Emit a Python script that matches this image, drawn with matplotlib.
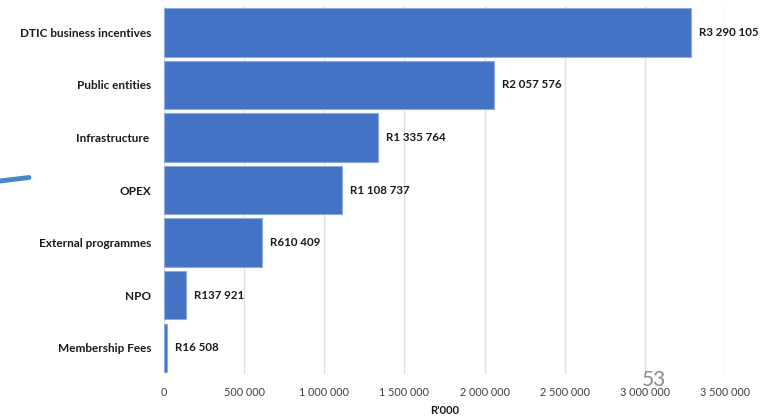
import matplotlib
matplotlib.use("Agg")
import matplotlib.pyplot as plt
from matplotlib.lines import Line2D

categories = ["DTIC business incentives", "Public entities", "Infrastructure ",
              "OPEX", "External programmes", "NPO", "Membership Fees"]
values = [3290105, 2057576, 1335764, 1108737, 610409, 137921, 16508]
value_labels = ["R3 290 105", "R2 057 576", "R1 335 764", "R1 108 737",
                "R610 409", "R137 921", "R16 508"]
xticks = [0, 500000, 1000000, 1500000, 2000000, 2500000, 3000000, 3500000]
xtick_labels = ["0", "500 000", "1 000 000", "1 500 000", "2 000 000",
                "2 500 000", "3 000 000", "3 500 000"]

plt.rcParams['font.family'] = ['Lato', 'DejaVu Sans']

fig = plt.figure(figsize=(7.6, 4.18), dpi=100)
ax = fig.add_axes([0.2158, 0.105, 0.954 - 0.2158, 0.9856 - 0.105])

ypos = list(range(len(categories)))[::-1]
ax.barh(ypos, values, height=0.92, color='#4472C4', edgecolor='#8FAADC',
        linewidth=0.8, zorder=3)

for y, v, lab in zip(ypos, values, value_labels):
    ax.text(v + 50000, y, lab, va='center', ha='left', fontsize=8.3,
            fontweight='bold', color='#1a1a1a', clip_on=False)

ax.set_xlim(0, 3500000)
ax.set_ylim(-0.5, len(categories) - 0.5)
ax.set_xticks(xticks)
ax.set_xticklabels(xtick_labels, fontsize=7.8, color='#404040')
ax.set_yticks(ypos)
ax.set_yticklabels(categories, fontsize=8.5, fontweight='bold', color='#1a1a1a')
ax.tick_params(axis='both', length=0)
ax.tick_params(axis='x', pad=9)
ax.tick_params(axis='y', pad=9)
ax.grid(axis='x', color='#DCE1EA', linewidth=1.0, zorder=0)
for s in ax.spines.values():
    s.set_visible(False)
ax.set_xlabel("R'000", fontsize=8, fontweight='bold', color='#1a1a1a', labelpad=5)

# page number and arrow stub from the slide
fig.text(654 / 760, 1 - 380 / 418, "53", fontsize=15, color='#8c8c8c',
         ha='center', va='center')
fig.add_artist(Line2D([0.0, 29 / 760], [1 - 181 / 418, 1 - 177.5 / 418],
                      color='#4A86C5', linewidth=3.5, solid_capstyle='round'))

fig.savefig("out.png", dpi=100)
